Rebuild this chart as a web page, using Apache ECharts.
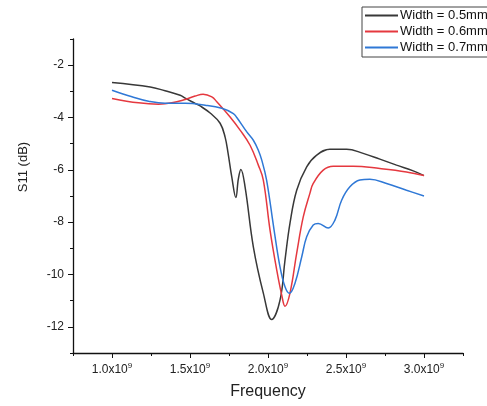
<!DOCTYPE html>
<html>
<head>
<meta charset="utf-8">
<script src="https://cdn.jsdelivr.net/npm/echarts@6/dist/echarts.min.js"></script>
<style>
  html, body { margin: 0; padding: 0; background: #fff; }
  #chart { width: 487px; height: 406px; }
</style>
</head>
<body>
<div id="chart"></div>
<script>
// frequency in units of 1e9 Hz, S11 in dB
const seriesNames = ['Width = 0.5mm', 'Width = 0.6mm', 'Width = 0.7mm'];

const freq05 = [1.00, 1.245, 1.34, 1.437, 1.469, 1.533, 1.565, 1.629, 1.693, 1.725, 1.744, 1.768, 1.794, 1.81, 1.826, 1.853,
  1.906, 1.97, 2.024, 2.077, 2.109, 2.141, 2.184, 2.248, 2.312, 2.397, 2.504, 2.61, 2.717, 2.824, 2.931, 3.00];
const s11_05 = [-2.66, -2.83, -2.98, -3.15, -3.26, -3.46, -3.56, -3.83, -4.22, -4.75, -5.36, -6.28, -7.06, -6.35, -5.99, -6.65,
  -8.94, -10.71, -11.72, -10.98, -9.45, -8.04, -6.78, -5.89, -5.44, -5.21, -5.21, -5.37, -5.59, -5.82, -6.04, -6.22];

const freq06 = [1.00, 1.17, 1.298, 1.384, 1.469, 1.533, 1.584, 1.64, 1.672, 1.757, 1.821, 1.885, 1.938, 1.97,
  2.013, 2.056, 2.088, 2.109, 2.141, 2.184, 2.226, 2.269, 2.29, 2.354, 2.418, 2.546, 2.717, 2.888, 3.00];
const s11_06 = [-3.27, -3.44, -3.49, -3.44, -3.31, -3.18, -3.11, -3.21, -3.40, -3.98, -4.48, -5.06, -5.82, -6.39,
  -8.30, -9.83, -10.79, -11.21, -10.71, -9.18, -7.80, -6.89, -6.52, -6.01, -5.86, -5.86, -5.95, -6.08, -6.22];

const freq07 = [1.00, 1.128, 1.234, 1.341, 1.469, 1.597, 1.704, 1.778, 1.80, 1.864, 1.906, 1.938, 1.96, 1.991, 2.039,
  2.077, 2.109, 2.137, 2.173, 2.216, 2.248, 2.29, 2.322, 2.386, 2.429, 2.472, 2.525, 2.589, 2.653, 2.76, 2.888, 3.00];
const s11_07 = [-2.96, -3.21, -3.38, -3.46, -3.46, -3.53, -3.65, -3.85, -4.0, -4.55, -4.87, -5.25, -5.63, -6.39, -8.30,
  -9.71, -10.47, -10.72, -10.33, -9.33, -8.56, -8.11, -8.05, -8.22, -7.92, -7.16, -6.65, -6.39, -6.36, -6.52, -6.78, -7.0];

const xMajorTicks = [1.0, 1.5, 2.0, 2.5, 3.0];
const xMinorTicks = [0.75, 1.25, 1.75, 2.25, 2.75, 3.25];
const yMajorTicks = [-12, -10, -8, -6, -4, -2];
const yMinorTicks = [-13, -11, -9, -7, -5, -3, -1];

const colors = ['#383838', '#e5383f', '#2f78d6'];
const font = 'Liberation Sans, Arial, sans-serif';

function zipData(xs, ys) {
  return xs.map((x, i) => [x, ys[i]]);
}

const chart = echarts.init(document.getElementById('chart'), null, { renderer: 'canvas' });

const axisLine = { show: true, lineStyle: { color: '#111', width: 1.3 } };

chart.setOption({
  animation: false,
  backgroundColor: '#fff',
  color: colors,
  textStyle: { fontFamily: font },
  grid: { left: 73, right: 24, top: 39, bottom: 53 },
  legend: {
    orient: 'vertical',
    left: 362,
    top: 7,
    padding: [2, 30, 3, 3],
    itemGap: 3,
    itemWidth: 33,
    itemHeight: 2,
    icon: 'rect',
    borderColor: '#444',
    borderWidth: 1,
    borderRadius: 0,
    textStyle: { fontSize: 13, color: '#111', padding: [0, 0, 0, -3] },
    data: seriesNames
  },
  xAxis: [{
    type: 'value',
    min: 0.75,
    max: 3.25,
    axisLine: axisLine,
    splitLine: { show: false },
    axisTick: { customValues: xMajorTicks, length: 5, lineStyle: { color: '#111' } },
    axisLabel: {
      customValues: xMajorTicks,
      margin: 9,
      formatter: v => '{b|' + v.toFixed(1) + 'x10}{s|9}',
      rich: {
        b: { fontSize: 12, color: '#222', fontFamily: font },
        s: { fontSize: 8, color: '#222', fontFamily: font, padding: [0, 0, 7, 0] }
      }
    },
    name: 'Frequency',
    nameLocation: 'middle',
    nameGap: 31,
    nameTextStyle: { fontSize: 16, color: '#222' }
  }, {
    type: 'value',
    position: 'bottom',
    min: 0.75,
    max: 3.25,
    axisLine: { show: false },
    splitLine: { show: false },
    axisTick: { customValues: xMinorTicks, length: 3, lineStyle: { color: '#111' } },
    axisLabel: { show: false }
  }],
  yAxis: [{
    type: 'value',
    min: -13,
    max: -1,
    axisLine: axisLine,
    splitLine: { show: false },
    axisTick: { customValues: yMajorTicks, length: 5, lineStyle: { color: '#111' } },
    axisLabel: { customValues: yMajorTicks, margin: 9, fontSize: 12, color: '#222' },
    name: 'S11 (dB)',
    nameLocation: 'middle',
    nameGap: 43,
    nameTextStyle: { fontSize: 13, color: '#222', padding: [0, 0, 0, 58] }
  }, {
    type: 'value',
    position: 'left',
    min: -13,
    max: -1,
    axisLine: { show: false },
    splitLine: { show: false },
    axisTick: { customValues: yMinorTicks, length: 3, lineStyle: { color: '#111' } },
    axisLabel: { show: false }
  }],
  series: [
    { name: seriesNames[0], type: 'line', data: zipData(freq05, s11_05) },
    { name: seriesNames[1], type: 'line', data: zipData(freq06, s11_06) },
    { name: seriesNames[2], type: 'line', data: zipData(freq07, s11_07) }
  ].map(s => Object.assign(s, {
    showSymbol: false,
    symbol: 'none',
    smooth: 0.4,
    lineStyle: { width: 1.5 }
  }))
});
</script>
</body>
</html>
